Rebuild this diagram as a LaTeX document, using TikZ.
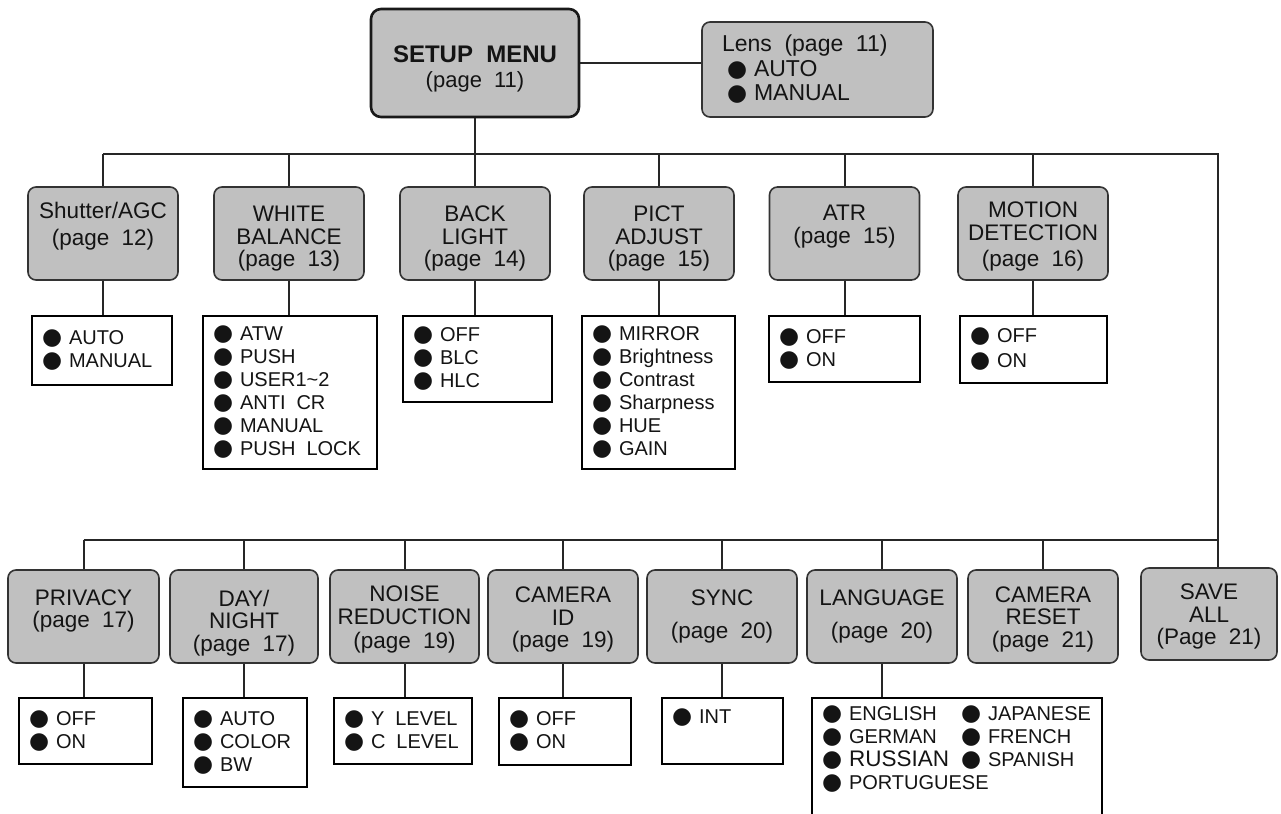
\documentclass[tikz,border=0pt]{standalone}
\usepackage{fontspec}
\setmainfont{Liberation Sans}
\newfontfamily\dejavu{DejaVu Sans}
\definecolor{boxgray}{HTML}{C0C0C0}
\definecolor{edgegray}{HTML}{333333}
\newcommand\bul{\makebox[25pt][l]{\hspace{-2pt}\dejavu\fontsize{23}{23}\selectfont ●}}
\newcommand\dsp{\hspace{0.55em}}
\newcommand\ts[1]{\rule{0pt}{#1}}
\tikzset{
  menu/.style={draw=edgegray, line width=1.6pt, fill=boxgray, rounded corners=8pt,
    align=center, inner sep=0pt, minimum width=150pt, minimum height=93pt,
    text=black!92, font=\fontsize{22.5}{22.5}\selectfont},
  opts/.style={draw=black, line width=2.6pt, fill=white, align=left,
    inner xsep=12pt, inner ysep=0pt, text=black!92, font=\fontsize{20}{23}\selectfont},
  conn/.style={line width=2pt, draw=black!85},
}
\begin{document}
\begin{tikzpicture}[x=1pt,y=-1pt]
\clip (0,0) rectangle (1281,813);
\fill[white] (0,0) rectangle (1281,813);

% top
\node[menu, line width=2.6pt, draw=black!90, rounded corners=10pt, minimum width=208pt, minimum height=108pt] (setup) at (475,63)
  {\ts{29pt}{\fontsize{24}{24}\selectfont\bfseries SETUP\dsp MENU}\\[3pt]{\fontsize{22}{22}\selectfont (page\dsp 11)}};
\node[menu, align=left, minimum width=231pt, minimum height=95pt, text width=191pt, inner xsep=20pt, font=\fontsize{23}{24.5}\selectfont] (lens) at (817.5,69.5)
  {Lens\dsp(page\dsp 11)\\\hspace*{7pt}\bul AUTO\\\hspace*{7pt}\bul MANUAL};

% first row
\node[menu] (shut) at (103,233.5) {\ts{26.5pt}Shutter/AGC\\[4pt](page\dsp 12)\\\strut};
\node[menu] (wb) at (289,233.5) {\ts{26.5pt}WHITE\\BALANCE\\(page\dsp 13)};
\node[menu] (back) at (475,233.5) {\ts{26.5pt}BACK\\LIGHT\\(page\dsp 14)};
\node[menu] (pict) at (659,233.5) {\ts{26.5pt}PICT\\ADJUST\\(page\dsp 15)};
\node[menu] (atr) at (844.5,233.5) {\ts{26.5pt}ATR\\(page\dsp 15)\\\strut};
\node[menu] (mot) at (1033,233.5) {\ts{21pt}MOTION\\[1pt]DETECTION\\[3pt](page\dsp 16)};

\node[opts, text width=116pt, minimum height=69pt] (shuto) at (102,350.5) {\bul AUTO\\\bul MANUAL};
\node[opts, text width=150pt, minimum height=153pt] (wbo) at (290,392.5)
  {\bul ATW\\\bul PUSH\\\bul USER1\textasciitilde 2\\\bul ANTI\dsp CR\\\bul MANUAL\\\bul PUSH\dsp LOCK};
\node[opts, text width=125pt, minimum height=86pt] (backo) at (477.5,359) {\bul OFF\\\bul BLC\\\bul HLC};
\node[opts, text width=129pt, minimum height=153pt] (picto) at (658.5,392.5)
  {\bul MIRROR\\\bul Brightness\\\bul Contrast\\\bul Sharpness\\\bul HUE\\\bul GAIN};
\node[opts, text width=127pt, minimum height=66pt] (atro) at (844.5,349) {\bul OFF\\\bul ON};
\node[opts, text width=123pt, minimum height=67pt] (moto) at (1033.5,349.5) {\bul OFF\\[2pt]\bul ON};

% second row
\node[menu, minimum width=151pt] (priv) at (83.5,616.5) {\ts{29pt}PRIVACY\\(page\dsp 17)\\\strut};
\node[menu, minimum width=148pt] (day) at (244,616.5) {\ts{29pt}DAY/\\NIGHT\\(page\dsp 17)};
\node[menu, minimum width=149pt] (noise) at (404.5,616.5) {\ts{22pt}NOISE\\REDUCTION\\[2pt](page\dsp 19)};
\node[menu] (camid) at (563,616.5) {\ts{22pt}CAMERA\\ID\\(page\dsp 19)};
\node[menu] (sync) at (722,616.5) {SYNC\\[10pt](page\dsp 20)};
\node[menu] (lang) at (882,616.5) {LANGUAGE\\[10pt](page\dsp 20)};
\node[menu] (reset) at (1043,616.5) {\ts{21pt}CAMERA\\RESET\\(page\dsp 21)};
\node[menu, minimum width=136pt, minimum height=92pt] (save) at (1209,614) {\ts{21pt}SAVE\\ALL\\(Page\dsp 21)};

\node[opts, text width=109pt, minimum height=66pt] (privo) at (85.5,731) {\bul OFF\\\bul ON};
\node[opts, text width=100pt, minimum height=89pt] (dayo) at (245,742.5) {\bul AUTO\\\bul COLOR\\\bul BW};
\node[opts, text width=114pt, minimum height=66pt] (noiseo) at (403,731) {\bul Y\dsp LEVEL\\\bul C\dsp LEVEL};
\node[opts, text width=108pt, minimum height=67pt] (camido) at (565,731.5) {\bul OFF\\\bul ON};
\node[opts, text width=97pt, minimum height=66pt] (synco) at (722.5,731) {\bul INT\\\strut};
\node[opts, text width=266pt, minimum height=130pt] (lango) at (957,763)
  {\bul\makebox[114pt][l]{ENGLISH}\bul JAPANESE\\
   \bul\makebox[114pt][l]{GERMAN}\bul FRENCH\\
   \bul\makebox[114pt][l]{\fontsize{22.5}{23}\selectfont RUSSIAN}\bul SPANISH\\
   \bul PORTUGUESE\\\strut};

% connectors
\coordinate (b1r) at (1218,154);
\coordinate (b2r) at (1218,540);
\draw[conn] (setup.east) -- (lens.west |- setup.east);
\draw[conn] (setup.south) -- (back.north);
\draw[conn] (shut.north |- b1r) -- (b1r) -- (save.north -| b1r);
\foreach \n in {shut,wb,pict,atr,mot}{
  \draw[conn] (\n.north) -- (\n.north |- b1r);
}
\draw[conn] (priv.north |- b2r) -- (b2r);
\foreach \n in {priv,day,noise,camid,sync,lang,reset}{
  \draw[conn] (\n.north) -- (\n.north |- b2r);
}
\foreach \n in {shut,wb,back,pict,atr,mot,priv,day,noise,camid,sync,lang}{
  \draw[conn] (\n.south) -- (\n.south |- \n o.north);
}
\end{tikzpicture}
\end{document}
